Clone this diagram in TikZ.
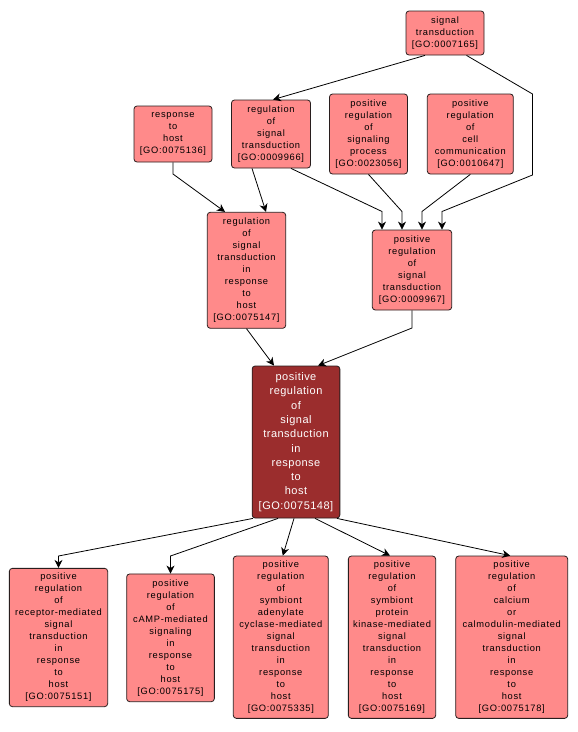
\documentclass[tikz,border=0pt]{standalone}
\usepackage{fontspec}
\newfontfamily\lbl[LetterSpace=7.5]{Liberation Sans}
\newfontfamily\lblmain[LetterSpace=4.5]{Liberation Sans}
\usetikzlibrary{arrows.meta}
\definecolor{gofill}{RGB}{255,138,138}
\definecolor{gomain}{RGB}{155,45,45}
\definecolor{goborder}{RGB}{40,30,30}
\begin{document}
\begin{tikzpicture}[x=1pt,y=-1pt,
  gonode/.style={draw=goborder, fill=gofill, rounded corners=3pt, line width=0.8pt,
    inner sep=0pt, align=center, font=\lbl\fontsize{9.3}{12}\selectfont},
  mainnode/.style={gonode, fill=gomain, text=white, font=\lblmain\fontsize{11}{14.3}\selectfont},
  sz/.style 2 args={minimum width=#1pt, minimum height=#2pt},
  golink/.style={draw=black, line width=0.8pt, -{Stealth[length=8pt,width=8pt,inset=2.5pt]}}]
\fill[white] (0,0) rectangle (578,732);
\useasboundingbox (0,0) rectangle (578,732);

% top row
\node[gonode, sz={78}{44}] (st) at (445,33) {signal\\transduction\\{[GO:0007165]}};
\node[gonode, sz={78}{56}] (rh) at (173,134) {response\\to\\host\\{[GO:0075136]}};
\node[gonode, sz={79}{68}] (rst) at (271,134) {regulation\\of\\signal\\transduction\\{[GO:0009966]}};
\node[gonode, sz={78}{80}] (p4) at (368.5,134) {positive\\regulation\\of\\signaling\\process\\{[GO:0023056]}};
\node[gonode, sz={86}{80}] (p5) at (470.3,134) {positive\\regulation\\of\\cell\\communication\\{[GO:0010647]}};

% middle row
\node[gonode, sz={78.4}{116}] (n6) at (246.5,270.3) {regulation\\of\\signal\\transduction\\in\\response\\to\\host\\{[GO:0075147]}};
\node[gonode, sz={79.4}{80}] (n7) at (412,270) {positive\\regulation\\of\\signal\\transduction\\{[GO:0009967]}};

% main
\node[mainnode, sz={87.7}{152}] (main) at (296,442) {positive\\regulation\\of\\signal\\transduction\\in\\response\\to\\host\\{[GO:0075148]}};

% bottom row
\node[gonode, sz={98.3}{138.3}] (b1) at (58.5,637.5) {positive\\regulation\\of\\receptor-mediated\\signal\\transduction\\in\\response\\to\\host\\{[GO:0075151]}};
\node[gonode, sz={87.7}{127.7}] (b2) at (170.5,637.8) {positive\\regulation\\of\\cAMP-mediated\\signaling\\in\\response\\to\\host\\{[GO:0075175]}};
\node[gonode, sz={95}{162.3}] (b3) at (280.8,637.2) {positive\\regulation\\of\\symbiont\\adenylate\\cyclase-mediated\\signal\\transduction\\in\\response\\to\\host\\{[GO:0075335]}};
\node[gonode, sz={87.3}{162.3}] (b4) at (392,637.2) {positive\\regulation\\of\\symbiont\\protein\\kinase-mediated\\signal\\transduction\\in\\response\\to\\host\\{[GO:0075169]}};
\node[gonode, sz={112}{162.3}] (b5) at (511.7,637.2) {positive\\regulation\\of\\calcium\\or\\calmodulin-mediated\\signal\\transduction\\in\\response\\to\\host\\{[GO:0075178]}};

% connectors
\draw[golink] ([xshift=-20pt]st.south) -- ([xshift=2pt]rst.north);
\draw[golink] ([xshift=21.5pt]st.south) -- (532.5,94) -- (532.5,175) -- (442,211.5) -- ([xshift=30pt]n7.north);
\draw[golink] (rh.south) -- (173,174) -- ([xshift=-21.5pt]n6.north);
\draw[golink] ([xshift=-19pt]rst.south) -- ([xshift=19.5pt]n6.north);
\draw[golink] ([xshift=20pt]rst.south) -- (382,211.5) -- ([xshift=-30pt]n7.north);
\draw[golink] (p4.south) -- (402,211.5) -- ([xshift=-10pt]n7.north);
\draw[golink] (p5.south) -- (422,211.5) -- ([xshift=10pt]n7.north);
\draw[golink] (n6.south) -- ([xshift=-22pt]main.north);
\draw[golink] (n7.south) -- (412,328) -- ([xshift=22pt]main.north);
\draw[golink] ([xshift=-43pt]main.south) -- (58.5,556) -- (b1.north);
\draw[golink] ([xshift=-18pt]main.south) -- (170.5,556) -- (b2.north);
\draw[golink] ([xshift=-2pt]main.south) -- ([xshift=2pt]b3.north);
\draw[golink] ([xshift=19pt]main.south) -- ([xshift=-2pt]b4.north);
\draw[golink] ([xshift=41pt]main.south) -- ([xshift=-1.5pt]b5.north);
\end{tikzpicture}
\end{document}
